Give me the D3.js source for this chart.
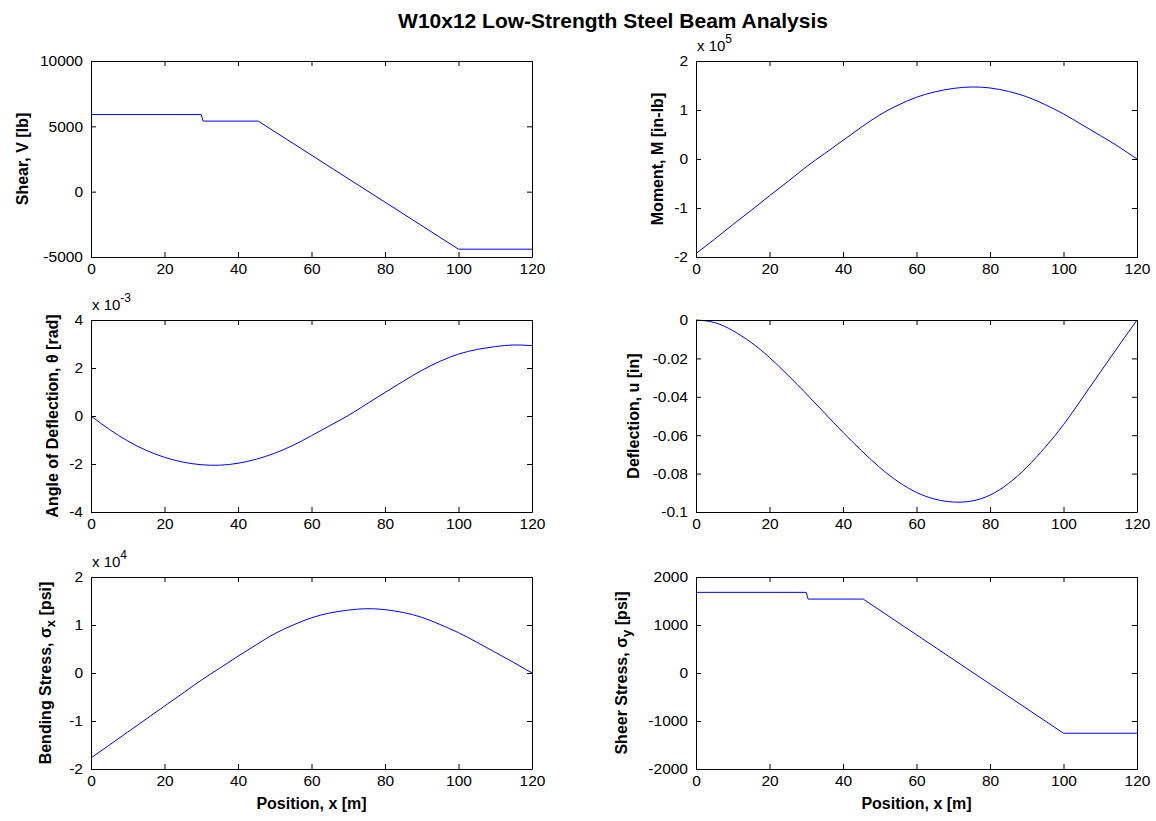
<!DOCTYPE html>
<html>
<head>
<meta charset="utf-8">
<script src="https://cdn.jsdelivr.net/npm/d3@7"></script>
<style>
  body { margin: 0; background: #fff; }
  text { font-family: Arial, "Liberation Sans", sans-serif; fill: #000; }
</style>
</head>
<body>
<div id="chart"></div>
<script>
// beam position, inches (x axis of every panel)
const positions = [0, 5, 10, 15, 20, 25, 30, 35, 40, 45, 50, 55, 60,
  65, 70, 75, 80, 85, 90, 95, 100, 105, 110, 115, 120];

// piecewise series (break points)
const shearX = [0, 30, 30.5, 45.5, 100, 120];
const shearV = [5900, 5900, 5400, 5400, -4400, -4400];
const shearStress = [1680, 1680, 1540, 1540, -1255, -1255];

// smooth series sampled at `positions`
const moment = [-1.93, -1.64, -1.34, -1.05, -0.75, -0.46, -0.16, 0.11, 0.38,
  0.65, 0.90, 1.10, 1.26, 1.37, 1.44, 1.47, 1.45, 1.38, 1.27, 1.11, 0.92,
  0.70, 0.48, 0.25, 0]; // x 10^5
const angle = [0, -0.56, -1.04, -1.43, -1.72, -1.92, -2.03, -2.05, -1.97,
  -1.80, -1.55, -1.22, -0.82, -0.40, 0.02, 0.50, 0.98, 1.45, 1.90, 2.28,
  2.58, 2.77, 2.89, 2.96, 2.93]; // x 10^-3
const deflection = [0, -0.0013, -0.0055, -0.0117, -0.0195, -0.0287, -0.0384,
  -0.0485, -0.0585, -0.0680, -0.0768, -0.0842, -0.0898, -0.0933, -0.0948,
  -0.0943, -0.0912, -0.0852, -0.0767, -0.0663, -0.0545, -0.0410, -0.0272,
  -0.0135, 0];
const bending = [-1.77, -1.50, -1.23, -0.96, -0.69, -0.42, -0.15, 0.10, 0.35,
  0.59, 0.82, 1.00, 1.15, 1.25, 1.31, 1.34, 1.32, 1.26, 1.16, 1.01, 0.84,
  0.64, 0.43, 0.22, 0]; // x 10^4

// tick values
const xTicks = [0, 20, 40, 60, 80, 100, 120];
const shearTicks = [-5000, 0, 5000, 10000];
const momentTicks = [-2, -1, 0, 1, 2];
const angleTicks = [-4, -2, 0, 2, 4];
const deflTicks = [-0.1, -0.08, -0.06, -0.04, -0.02, 0];
const bendTicks = [-2, -1, 0, 1, 2];
const stressTicks = [-2000, -1000, 0, 1000, 2000];

const W = 1156, H = 821;
const colLeft = [91, 696];
const plotWidth = 441;
const rowTop = [61, 320, 577];
const rowBottom = [257, 512, 769];

const svg = d3.select("#chart").append("svg")
  .attr("width", W).attr("height", H);

svg.append("text")
  .attr("x", 613).attr("y", 28)
  .attr("text-anchor", "middle")
  .style("font-size", "21px").style("font-weight", "bold")
  .text("W10x12 Low-Strength Steel Beam Analysis");

const panels = [
  { col: 0, row: 0, xs: shearX, ys: shearV, domain: [-5000, 10000], ticks: shearTicks,
    label: [{ t: "Shear, V [lb]" }], labelX: 22 },
  { col: 1, row: 0, xs: positions, ys: moment, domain: [-2, 2], ticks: momentTicks,
    smooth: true, exp: "5", label: [{ t: "Moment, M [in-lb]" }], labelX: 657 },
  { col: 0, row: 1, xs: positions, ys: angle, domain: [-4, 4], ticks: angleTicks,
    smooth: true, exp: "-3", label: [{ t: "Angle of Deflection,  θ [rad]" }], labelX: 52 },
  { col: 1, row: 1, xs: positions, ys: deflection, domain: [-0.1, 0], ticks: deflTicks,
    smooth: true, label: [{ t: "Deflection, u [in]" }], labelX: 633 },
  { col: 0, row: 2, xs: positions, ys: bending, domain: [-2, 2], ticks: bendTicks,
    smooth: true, exp: "4", xLabel: true,
    label: [{ t: "Bending Stress, σ" }, { t: "x", sub: true }, { t: " [psi]" }], labelX: 45 },
  { col: 1, row: 2, xs: shearX, ys: shearStress, domain: [-2000, 2000], ticks: stressTicks,
    xLabel: true,
    label: [{ t: "Sheer Stress, σ" }, { t: "y", sub: true }, { t: " [psi]" }], labelX: 621 }
];

panels.forEach(drawPanel);

function drawPanel(p) {
  const left = colLeft[p.col];
  const top = rowTop[p.row];
  const bottom = rowBottom[p.row];
  const right = left + plotWidth;

  const x = d3.scaleLinear().domain([0, 120]).range([left, right]);
  const y = d3.scaleLinear().domain(p.domain).range([bottom, top]);

  const g = svg.append("g");

  // data line
  const pts = p.xs.map((d, i) => [d, p.ys[i]]);
  const line = d3.line()
    .x(d => x(d[0]))
    .y(d => y(d[1]))
    .curve(p.smooth ? d3.curveNatural : d3.curveLinear);
  g.append("path")
    .datum(pts)
    .attr("d", line)
    .attr("fill", "none")
    .attr("stroke", "#0000ff")
    .attr("stroke-width", 1);

  // four-sided box with inward ticks (matlab style)
  const fmt = v => String(v);
  const axes = [
    { ax: d3.axisBottom(x).tickValues(xTicks).tickFormat(fmt), t: `translate(0,${bottom})` },
    { ax: d3.axisTop(x).tickValues(xTicks).tickFormat(""), t: `translate(0,${top})` },
    { ax: d3.axisLeft(y).tickValues(p.ticks).tickFormat(fmt), t: `translate(${left},0)` },
    { ax: d3.axisRight(y).tickValues(p.ticks).tickFormat(""), t: `translate(${right},0)` }
  ];
  axes.forEach((a, i) => {
    const ag = g.append("g")
      .attr("transform", a.t)
      .call(a.ax.tickSizeInner(-5).tickSizeOuter(0).tickPadding(i === 2 ? 8 : 6));
    ag.select(".domain").attr("stroke", "#000");
    ag.selectAll(".tick line").attr("stroke", "#000");
    ag.selectAll("text")
      .style("font-size", "15.5px")
      .style("font-family", "Arial, 'Liberation Sans', sans-serif")
      .attr("fill", "#000");
  });

  // exponent label
  if (p.exp) {
    const e = g.append("text")
      .attr("x", left + 1).attr("y", top - 10)
      .style("font-size", "15px");
    e.append("tspan").text("x 10");
    e.append("tspan").attr("dy", -8).style("font-size", "12px").text(p.exp);
  }

  // y label
  const lab = g.append("text")
    .attr("transform", `translate(${p.labelX},${(top + bottom) / 2}) rotate(-90)`)
    .attr("text-anchor", "middle")
    .attr("dy", "0.35em")
    .style("font-size", "16px")
    .style("font-weight", "bold");
  let shifted = false;
  p.label.forEach(s => {
    const ts = lab.append("tspan").text(s.t);
    if (s.sub) {
      ts.attr("dy", 4).style("font-size", "13px");
      shifted = true;
    } else if (shifted) {
      ts.attr("dy", -4);
      shifted = false;
    }
  });

  if (p.xLabel) {
    g.append("text")
      .attr("x", (left + right) / 2).attr("y", 809)
      .attr("text-anchor", "middle")
      .style("font-size", "16px")
      .style("font-weight", "bold")
      .text("Position, x [m]");
  }
}
</script>
</body>
</html>
